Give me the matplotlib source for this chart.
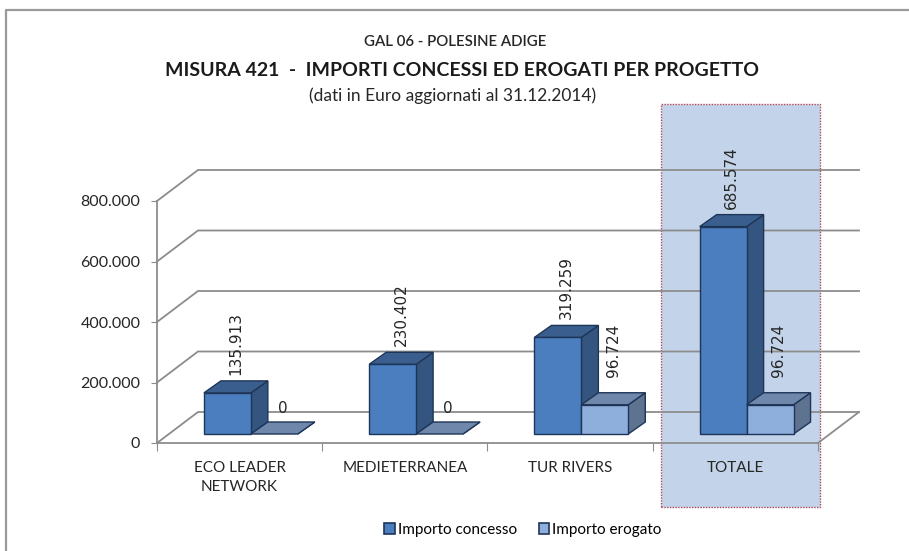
import numpy as np
import matplotlib
matplotlib.use("Agg")
import matplotlib.pyplot as plt
from matplotlib.patches import Polygon, Rectangle, Patch
from matplotlib.lines import Line2D

# data
categories = ["ECO LEADER\nNETWORK", "MEDIETERRANEA", "TUR RIVERS", "TOTALE"]
concesso = [135913, 230402, 319259, 685574]
erogato = [0, 0, 96724, 96724]
series_names = ["Importo concesso", "Importo erogato"]
yticks = [0, 200000, 400000, 600000, 800000]

plt.rcParams['font.family'] = ['Lato', 'DejaVu Sans']

fig = plt.figure(figsize=(9.09, 5.51), dpi=100)
W, H = 909, 551
# front plane: x 157..818 px, y=0 at 443 px, 800000 at 201 px
ax = fig.add_axes([157 / W, (H - 443) / H, 661 / W, 242 / H])
ax.set_xlim(0, 4)
ax.set_ylim(0, 800000)

px_x = 4 / 661.0          # category units per pixel
px_y = 800000 / 242.0     # value units per pixel
DX, DY = 41 * px_x, 31 * px_y        # wall depth
bdx, bdy = 17 * px_x, 12 * px_y      # bar depth
base = 9 * px_y                      # bars sit a bit back from the front
grid_c = '#8c8c8c'

# TOTALE highlight box
ax.add_patch(Rectangle((504 * px_x, -64 * px_y), 159 * px_x, 403 * px_y,
                       facecolor='#c3d4ea', edgecolor='#b04a5a', lw=1.0,
                       ls=(0, (1, 1)), zorder=0, clip_on=False))

# back wall gridlines + left wall diagonals
for v in yticks:
    ax.plot([0, DX, 4 + DX], [v, v + DY, v + DY], color=grid_c, lw=1.3,
            zorder=1, clip_on=False, solid_joinstyle='miter')
# floor right edge
ax.plot([4, 4 + DX], [0, DY], color=grid_c, lw=1.3, zorder=1, clip_on=False)


def fmt(v):
    return f"{v:,}".replace(",", ".")


def bar3d(x0, x1, v, front, top, side, gap):
    y0, y1 = base, base + v
    ec = '#1f3558'
    kw = dict(edgecolor=ec, lw=1.0, zorder=3, clip_on=False, joinstyle='miter')
    ax.add_patch(Polygon([(x1, y0), (x1, y1), (x1 + bdx, y1 + bdy), (x1 + bdx, y0 + bdy)],
                         closed=True, facecolor=side, **kw))
    ax.add_patch(Polygon([(x0, y1), (x1, y1), (x1 + bdx, y1 + bdy), (x0 + bdx, y1 + bdy)],
                         closed=True, facecolor=top, **kw))
    if v > 0:
        ax.add_patch(Rectangle((x0, y0), x1 - x0, v, facecolor=front, **kw))
    ax.text((x0 + x1) / 2 + bdx / 2, y1 + bdy + gap * px_y, fmt(v),
            rotation=90 if v > 0 else 0, ha='center', va='bottom',
            fontsize=11, family='DejaVu Sans', color='#262626', zorder=4)


for i in range(len(categories)):
    bar3d(i + 0.284, i + 0.568, concesso[i], '#4a7ebf', '#3a5f8e', '#34557f', 6)
    bar3d(i + 0.568, i + 0.852, erogato[i], '#8eaedb', '#6e87aa', '#5d7390',
          16 if erogato[i] > 0 else 6)

# axes styling
for s in ['top', 'right']:
    ax.spines[s].set_visible(False)
for s in ['left', 'bottom']:
    ax.spines[s].set_color(grid_c)
    ax.spines[s].set_linewidth(1.3)
    ax.spines[s].set_zorder(2)
ax.set_yticks(yticks)
ax.set_yticklabels([fmt(v) for v in yticks], fontsize=11.5, color='#262626')
ax.tick_params(axis='y', length=4, color=grid_c, pad=8)
ax.set_xticks(range(5))
ax.set_xticklabels([])
ax.tick_params(axis='x', which='major', length=6, color=grid_c)
ax.set_xticks(np.arange(len(categories)) + 0.5, minor=True)
ax.set_xticklabels(categories, minor=True, fontsize=11, color='#262626',
                   linespacing=1.45)
ax.tick_params(axis='x', which='minor', length=0, pad=13)
ax.patch.set_alpha(0)

# titles
fig.text(455 / W, 1 - 42 / H, "GAL 06 - POLESINE ADIGE", ha='center', va='center',
         fontsize=10.8, fontweight='semibold', color='#262626')
fig.text(462 / W, 1 - 70 / H, "MISURA 421  -  IMPORTI CONCESSI ED EROGATI PER PROGETTO",
         ha='center', va='center', fontsize=14, fontweight='bold', color='#1a1a1a')
fig.text(453 / W, 1 - 96 / H, "(dati in Euro aggiornati al 31.12.2014)", ha='center',
         va='center', fontsize=12.5, color='#262626')

# legend
handles = [Patch(facecolor='#4a7ebf', edgecolor='#1f3558', lw=1.2),
           Patch(facecolor='#8eaedb', edgecolor='#1f3558', lw=1.2)]
fig.legend(handles, series_names, loc='center', bbox_to_anchor=(523 / W, 1 - 530 / H),
           ncol=2, frameon=False, fontsize=11, handlelength=0.7, handleheight=0.7,
           handletextpad=0.2, columnspacing=1.4)

# chart border (left and top only visible)
fig.add_artist(Line2D([6 / W, 6 / W, 1], [0, 1 - 10 / H, 1 - 10 / H],
                      transform=fig.transFigure, color='#9a9a9a', lw=1.6))

fig.savefig("out.png", dpi=100)
